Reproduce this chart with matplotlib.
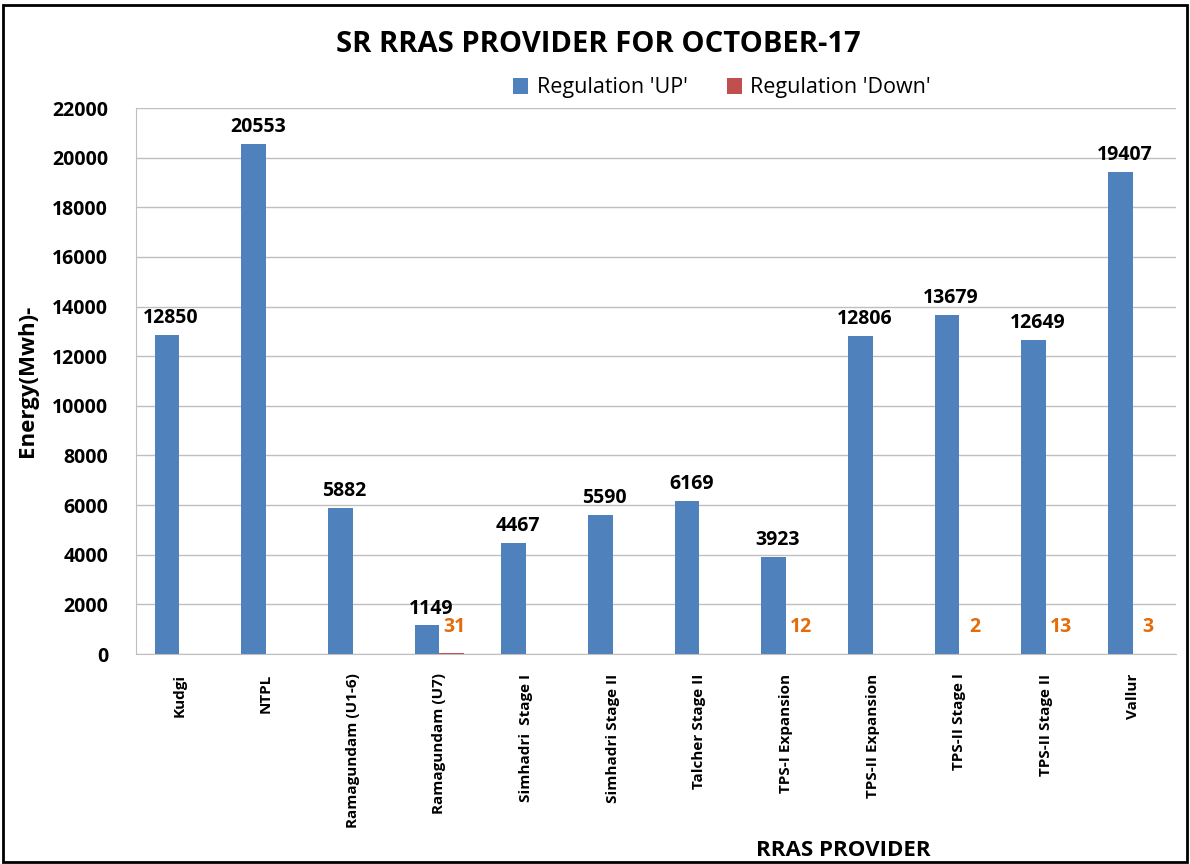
import matplotlib
matplotlib.use("Agg")
import matplotlib.pyplot as plt
from matplotlib.patches import Rectangle
import numpy as np

providers = [
    "Kudgi", "NTPL", "Ramagundam (U1-6)", "Ramagundam (U7)",
    "Simhadri  Stage I", "Simhadri Stage II", "Talcher Stage II",
    "TPS-I Expansion", "TPS-II Expansion", "TPS-II Stage I",
    "TPS-II Stage II", "Vallur",
]
reg_up = [12850, 20553, 5882, 1149, 4467, 5590, 6169, 3923, 12806, 13679, 12649, 19407]
reg_down = [0, 0, 0, 31, 0, 0, 0, 12, 0, 2, 13, 3]
y_ticks = list(range(0, 22001, 2000))

plt.rcParams["font.family"] = ["Open Sans", "DejaVu Sans"]

fig = plt.figure(figsize=(11.9, 8.64), dpi=100)
ax = fig.add_axes([136 / 1190, 1 - 654 / 864, 1040 / 1190, 546 / 864])

x = np.arange(len(providers))
w = 0.285
up_bars = ax.bar(x - w / 2, reg_up, w, color="#4F81BD", label="Regulation 'UP'")
down_bars = ax.bar(x + w / 2, reg_down, w, color="#C0504D", label="Regulation 'Down'")

for bar, v in zip(up_bars, reg_up):
    ax.annotate(str(v), (bar.get_x() + bar.get_width() / 2, v),
                xytext=(3, 5), textcoords="offset points",
                ha="center", va="bottom", fontsize=14, fontweight="bold")
for bar, v in zip(down_bars, reg_down):
    if v == 0:
        continue
    ax.annotate(str(v), (bar.get_x() + bar.get_width() / 2, v),
                xytext=(2, 12), textcoords="offset points",
                ha="center", va="bottom", fontsize=14, fontweight="bold",
                color="#E46C0A")

ax.set_xlim(-0.5, len(providers) - 0.5)
ax.set_ylim(0, 22000)
ax.set_yticks(y_ticks)
ax.set_yticklabels([str(t) for t in y_ticks], fontsize=14, fontweight="bold")
ax.set_xticks(x)
ax.set_xticklabels(providers, rotation=90, fontsize=11, fontweight="bold")
ax.tick_params(axis="y", length=0, pad=20)
ax.tick_params(axis="x", length=0, pad=14)
ax.grid(axis="y", color="#BFBFBF", linewidth=1)
ax.set_axisbelow(True)
for s in ["top", "right"]:
    ax.spines[s].set_visible(False)
for s in ["left", "bottom"]:
    ax.spines[s].set_color("#BFBFBF")

ax.set_ylabel("Energy(Mwh)-", fontsize=16, fontweight="bold", labelpad=10)
fig.text(843 / 1190, 1 - 850 / 864, "RRAS PROVIDER", ha="center", va="center",
         fontsize=16, fontweight="bold")
fig.text(598 / 1190, 1 - 45 / 864, "SR RRAS PROVIDER FOR OCTOBER-17",
         ha="center", va="center", fontsize=21, fontweight="bold")

fig.legend(loc="center", bbox_to_anchor=(722 / 1190, 1 - 88 / 864), ncol=2,
           frameon=False, fontsize=15.5, handlelength=0.7, handleheight=0.7,
           columnspacing=1.8, handletextpad=0.4)

fig.patches.append(Rectangle((3 / 1190, 2 / 864), 1184 / 1190, 857 / 864,
                             transform=fig.transFigure, fill=False,
                             edgecolor="black", linewidth=2))

fig.savefig("out.png", dpi=100)
